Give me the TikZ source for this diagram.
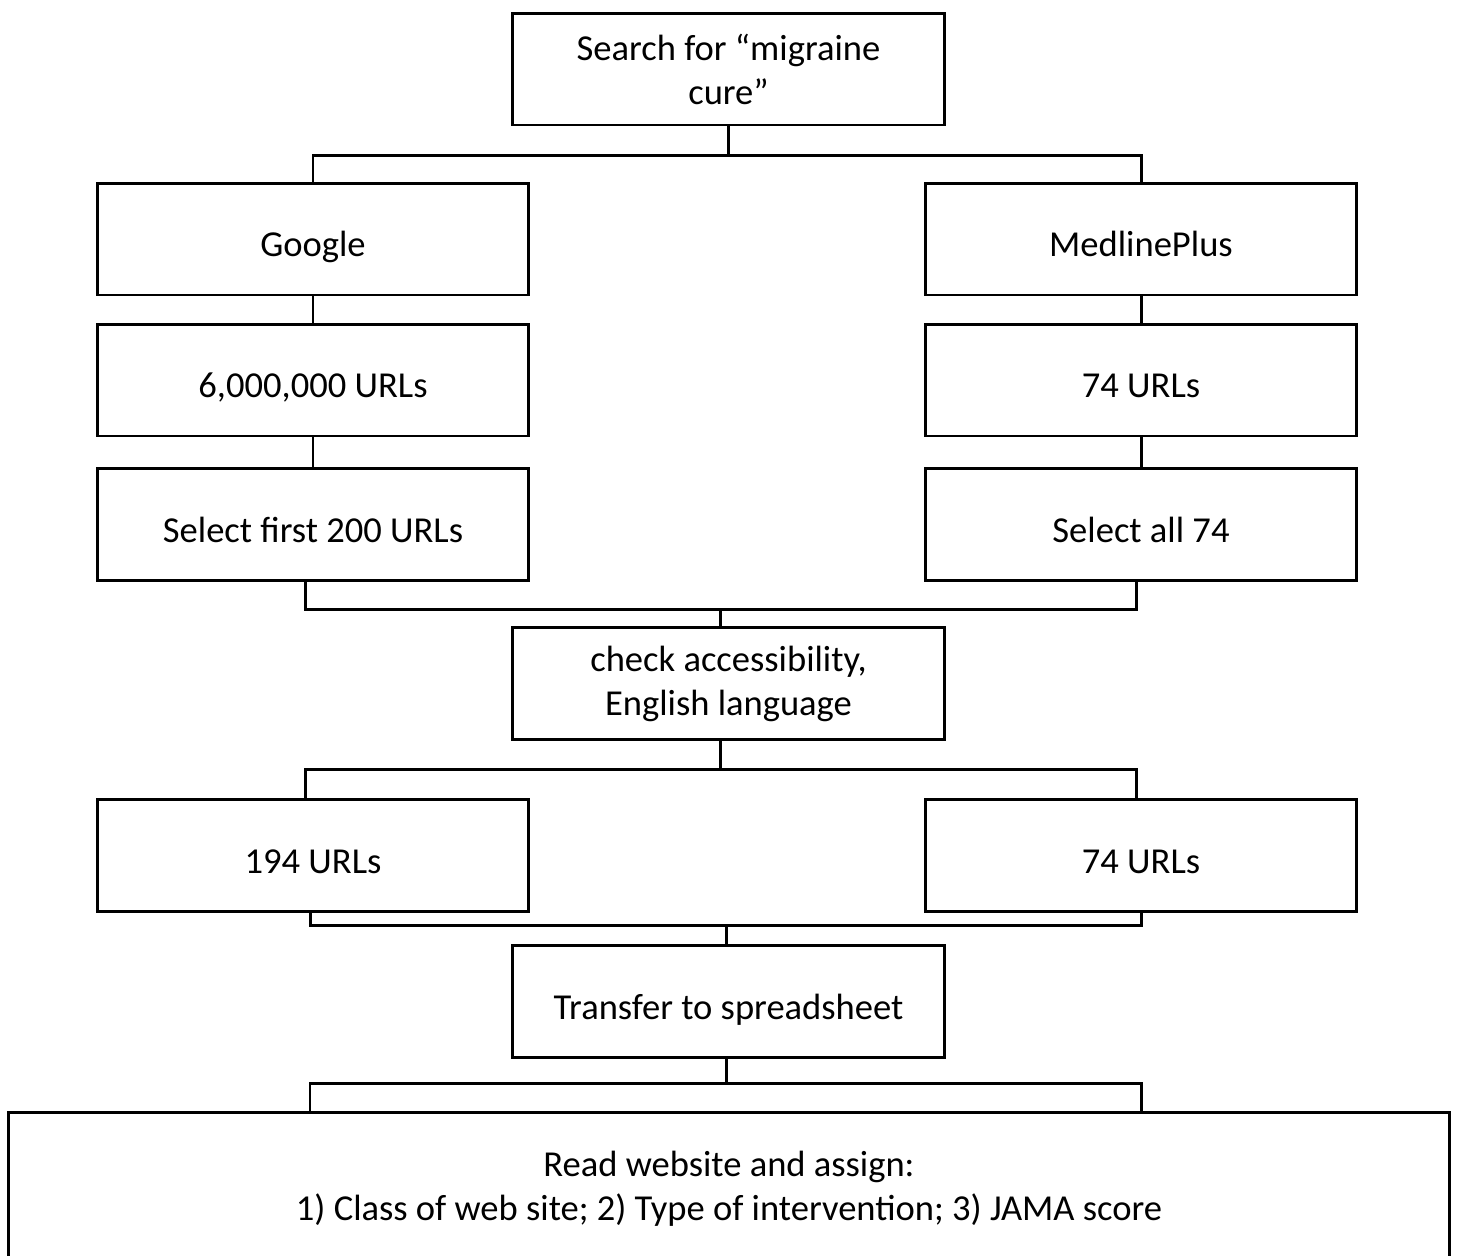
\documentclass[tikz,border=0pt]{standalone}
\usepackage{fontspec}
\setmainfont{Carlito}
\begin{document}
\begin{tikzpicture}[x=0.02cm,y=-0.02cm,
    box/.style={draw=black,line width=1.7pt,minimum width=8.64cm,minimum height=2.24cm,align=center,inner sep=0pt},
    oneline/.style={box,text height=22pt,text depth=1.6pt},
    link/.style={draw=black,line width=1.7pt},
    font=\fontsize{20.8}{25}\selectfont]
    \useasboundingbox (0,0) rectangle (1460,1255);

    \node[box] (search) at (728.5,69) {Search for “migraine\\cure”};
    \node[oneline] (google) at (313,239) {Google};
    \node[oneline] (medline) at (1141,239) {MedlinePlus};
    \node[oneline] (gurls) at (313,380) {6,000,000 URLs};
    \node[oneline] (murls) at (1141,380) {74 URLs};
    \node[oneline] (gsel) at (313,524.5) {Select first 200 URLs};
    \node[oneline] (msel) at (1141,524.5) {Select all 74};
    \node[box] (check) at (728.5,683.5) {check accessibility,\\English language};
    \node[oneline] (gfinal) at (313,855.5) {194 URLs};
    \node[oneline] (mfinal) at (1141,855.5) {74 URLs};
    \node[oneline] (transfer) at (728.5,1001.5) {Transfer to spreadsheet};
    \node[box,minimum width=28.84cm,minimum height=3.08cm] (read) at (729,1189) {Read website and assign:\\1) Class of web site; 2) Type of intervention; 3) JAMA score};

    \coordinate (j1) at (728.5,155);
    \coordinate (j2) at (720,609);
    \coordinate (j3) at (720,769);
    \coordinate (j4) at (726,925);
    \coordinate (j5) at (726,1083);
    \coordinate (r1) at (310,1112);
    \coordinate (r2) at (1141,1112);

    \draw[link] (search.south) -- (j1);
    \draw[link] (google.north) |- (j1) -| (medline.north);
    \draw[link] (google) -- (gurls);
    \draw[link] (gurls) -- (gsel);
    \draw[link] (medline) -- (murls);
    \draw[link] (murls) -- (msel);
    \draw[link] ([xshift=-4.5pt]gsel.south) |- (j2) -| ([xshift=-2.8pt]msel.south);
    \draw[link] (j2) -- (j2 |- check.north);
    \draw[link] (j3 |- check.south) -- (j3);
    \draw[link] ([xshift=-4.5pt]gfinal.north) |- (j3) -| ([xshift=-2.8pt]mfinal.north);
    \draw[link] ([xshift=-1.7pt]gfinal.south) |- (j4) -| (mfinal.south);
    \draw[link] (j4) -- (j4 |- transfer.north);
    \draw[link] (j5 |- transfer.south) -- (j5);
    \draw[link] (r1) |- (j5) -| (r2);
\end{tikzpicture}
\end{document}
